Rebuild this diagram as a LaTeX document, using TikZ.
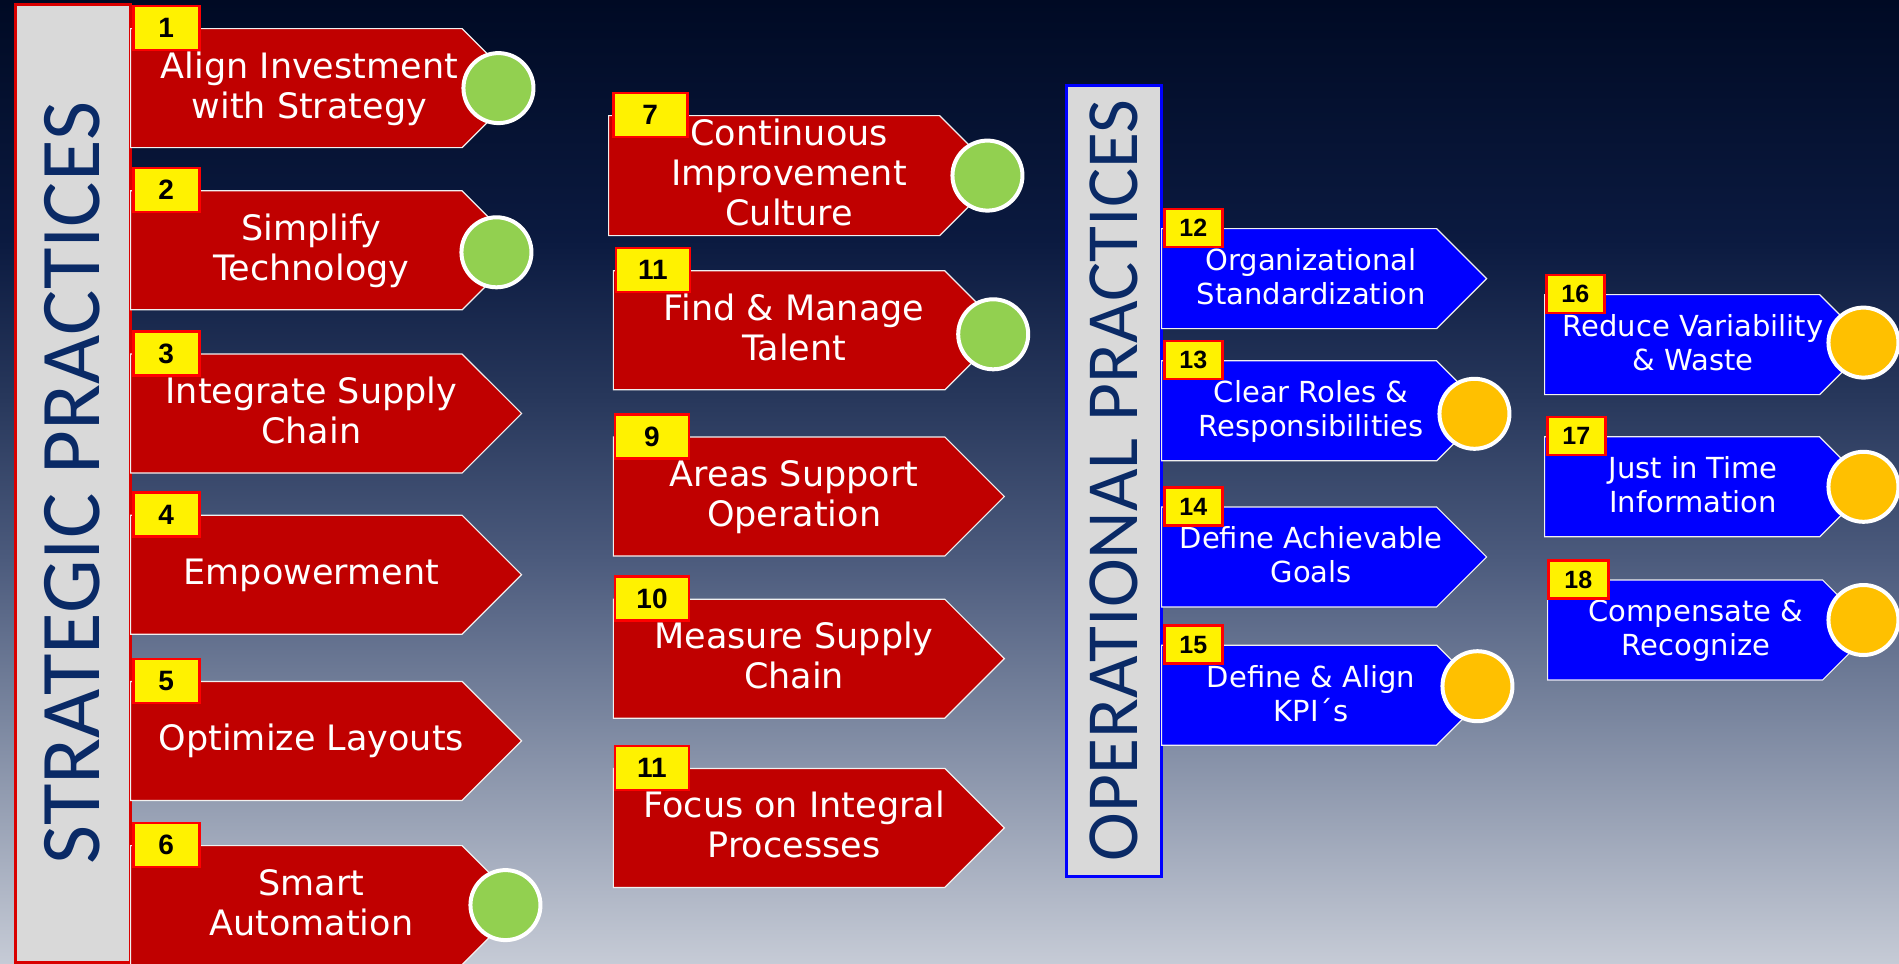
\documentclass[tikz,border=0pt]{standalone}
\usepackage{fontspec}
\setmainfont{DejaVu Sans}
\newfontfamily\numfont{Liberation Sans}
\newfontfamily\titlefont{Carlito}
\usetikzlibrary{shapes.symbols, positioning}

\definecolor{stratred}{HTML}{C00000}
\definecolor{operblue}{HTML}{0000FF}
\definecolor{okgreen}{HTML}{92D050}
\definecolor{warnorange}{HTML}{FFC000}
\definecolor{bargray}{HTML}{D9D9D9}
\definecolor{titlenavy}{HTML}{0A2A66}
\definecolor{bgA}{HTML}{000A24}
\definecolor{bgB}{HTML}{0B1A40}
\definecolor{bgC}{HTML}{28385C}
\definecolor{bgD}{HTML}{4C5B7D}
\definecolor{bgE}{HTML}{7B87A0}
\definecolor{bgF}{HTML}{C6CBD6}

% text of an arrow, pushed towards its tip
\newcommand{\arrowlabel}[2][30pt]{\hspace*{#1}\makebox[0pt]{\raisebox{-2pt}[\height][\depth]{\begin{tabular}{@{}c@{}}#2\end{tabular}}}}

\begin{document}
\begin{tikzpicture}[x=1pt, y=-1pt,
  stratarrow/.style={signal, signal to=east, signal pointer angle=90, fill=stratred, draw=white!88!gray, line width=1.2pt, text=white, inner sep=0pt, minimum width=391pt, minimum height=119pt, font=\fontsize{35}{40}\selectfont},
  operarrow/.style={stratarrow, fill=operblue, minimum width=325pt, minimum height=100pt, font=\fontsize{29}{34}\selectfont},
  numbox/.style={rectangle, fill=yellow, draw=red, line width=2.5pt, anchor=west, inner sep=0pt, minimum width=66pt, minimum height=44pt, font=\numfont\bfseries\fontsize{28}{28}\selectfont},
  widenum/.style={numbox, minimum width=74pt},
  smallnum/.style={numbox, minimum width=58pt, minimum height=38pt, font=\numfont\bfseries\fontsize{25}{25}\selectfont},
  okdot/.style={circle, fill=okgreen, draw=white, line width=4pt, minimum size=70pt, inner sep=0pt},
  warndot/.style={okdot, fill=warnorange},
  stratbar/.style={rectangle, rotate=90, fill=bargray, draw=red!85!black, line width=3pt, minimum width=958pt, minimum height=115pt, text=titlenavy, font=\titlefont\fontsize{85}{85}\selectfont},
  operbar/.style={stratbar, draw=blue, minimum width=791pt, minimum height=95pt, font=\titlefont\fontsize{73.5}{73.5}\selectfont}]

  \useasboundingbox (0,0) rectangle (1899,964);

  % Background
  \shade[top color=bgA, bottom color=bgB] (0,0) rectangle (1899,241);
  \shade[top color=bgB, bottom color=bgC] (0,240) rectangle (1899,401);
  \shade[top color=bgC, bottom color=bgD] (0,400) rectangle (1899,561);
  \shade[top color=bgD, bottom color=bgE] (0,560) rectangle (1899,721);
  \shade[top color=bgE, bottom color=bgF] (0,720) rectangle (1899,964);

  % Title bars
  \node (strategic) [stratbar] at (72.5,483) {STRATEGIC PRACTICES};
  \node (operational) [operbar] at (1113.5,480.5) {OPERATIONAL PRACTICES};

  % Strategic practices
  \node (invest) [stratarrow, anchor=north west] at (130,28) {\arrowlabel[26pt]{Align Investment\\with Strategy}};
  \node (simplify) [stratarrow, below=42pt of invest] {\arrowlabel{Simplify\\Technology}};
  \node (supply) [stratarrow, below=43pt of simplify] {\arrowlabel{Integrate Supply\\Chain}};
  \node (empower) [stratarrow, below=41pt of supply] {\arrowlabel{Empowerment}};
  \node (layouts) [stratarrow, below=46pt of empower] {\arrowlabel{Optimize Layouts}};
  \node (automation) [stratarrow, below=44pt of layouts] {\arrowlabel{Smart\\Automation}};

  \node (improve) [stratarrow, anchor=north west] at (608,115) {\arrowlabel{Continuous\\Improvement\\Culture}};
  \node (talent) [stratarrow, below=34pt of improve, xshift=5pt] {\arrowlabel{Find \& Manage\\Talent}};
  \node (support) [stratarrow, below=46pt of talent] {\arrowlabel{Areas Support\\Operation}};
  \node (measure) [stratarrow, below=42pt of support] {\arrowlabel{Measure Supply\\Chain}};
  \node (integral) [stratarrow, below=49pt of measure] {\arrowlabel{Focus on Integral\\Processes}};

  % Operational practices
  \node (standard) [operarrow, anchor=north west] at (1161,228) {\arrowlabel[24pt]{Organizational\\Standardization}};
  \node (roles) [operarrow, below=31pt of standard] {\arrowlabel[24pt]{Clear Roles \&\\Responsibilities}};
  \node (goals) [operarrow, below=45pt of roles] {\arrowlabel[24pt]{Define Achievable\\Goals}};
  \node (kpis) [operarrow, below=37pt of goals] {\arrowlabel[24pt]{Define \& Align\\KPI´s}};

  \node (waste) [operarrow, anchor=north west] at (1544,294) {\arrowlabel[22pt]{Reduce Variability\\\& Waste}};
  \node (jit) [operarrow, below=41pt of waste] {\arrowlabel[22pt]{Just in Time\\Information}};
  \node (reward) [operarrow, below=42pt of jit, xshift=3pt] {\arrowlabel[22pt]{Compensate \&\\Recognize}};

  % Numbers
  \node (n1) [numbox] at ([xshift=2pt]invest.north west) {1};
  \node (n2) [numbox] at ([xshift=2pt]simplify.north west) {2};
  \node (n3) [numbox] at ([xshift=2pt]supply.north west) {3};
  \node (n4) [numbox] at ([xshift=2pt]empower.north west) {4};
  \node (n5) [numbox] at ([xshift=2pt]layouts.north west) {5};
  \node (n6) [numbox] at ([xshift=2pt]automation.north west) {6};
  \node (n7) [widenum] at ([xshift=4pt]improve.north west) {7};
  \node (n8) [widenum] at ([xshift=2pt]talent.north west) {11};
  \node (n9) [widenum] at ([xshift=1pt]support.north west) {9};
  \node (n10) [widenum] at ([xshift=1pt]measure.north west) {10};
  \node (n11) [widenum] at ([xshift=1pt]integral.north west) {11};
  \node (n12) [smallnum] at ([xshift=2pt]standard.north west) {12};
  \node (n13) [smallnum] at ([xshift=2pt]roles.north west) {13};
  \node (n14) [smallnum] at ([xshift=2pt]goals.north west) {14};
  \node (n15) [smallnum] at ([xshift=2pt]kpis.north west) {15};
  \node (n16) [smallnum] at ([xshift=1pt]waste.north west) {16};
  \node (n17) [smallnum] at ([xshift=2pt]jit.north west) {17};
  \node (n18) [smallnum, minimum width=60pt] at (reward.north west) {18};

  % Status dots
  \node (d1) [okdot, xshift=-24pt] at (invest.east) {};
  \node (d2) [okdot, xshift=-26pt, yshift=-2pt] at (simplify.east) {};
  \node (d6) [okdot, xshift=-17pt] at (automation.east) {};
  \node (d7) [okdot, xshift=-13pt] at (improve.east) {};
  \node (d8) [okdot, xshift=-12pt, yshift=-4pt] at (talent.east) {};
  \node (d13) [warndot, xshift=-13pt, yshift=-3pt] at (roles.east) {};
  \node (d15) [warndot, xshift=-10pt, yshift=9pt] at (kpis.east) {};
  \node (d16) [warndot, xshift=-7pt, yshift=2pt] at (waste.east) {};
  \node (d17) [warndot, xshift=-7pt] at (jit.east) {};
  \node (d18) [warndot, xshift=-10pt, yshift=10pt] at (reward.east) {};
\end{tikzpicture}
\end{document}
